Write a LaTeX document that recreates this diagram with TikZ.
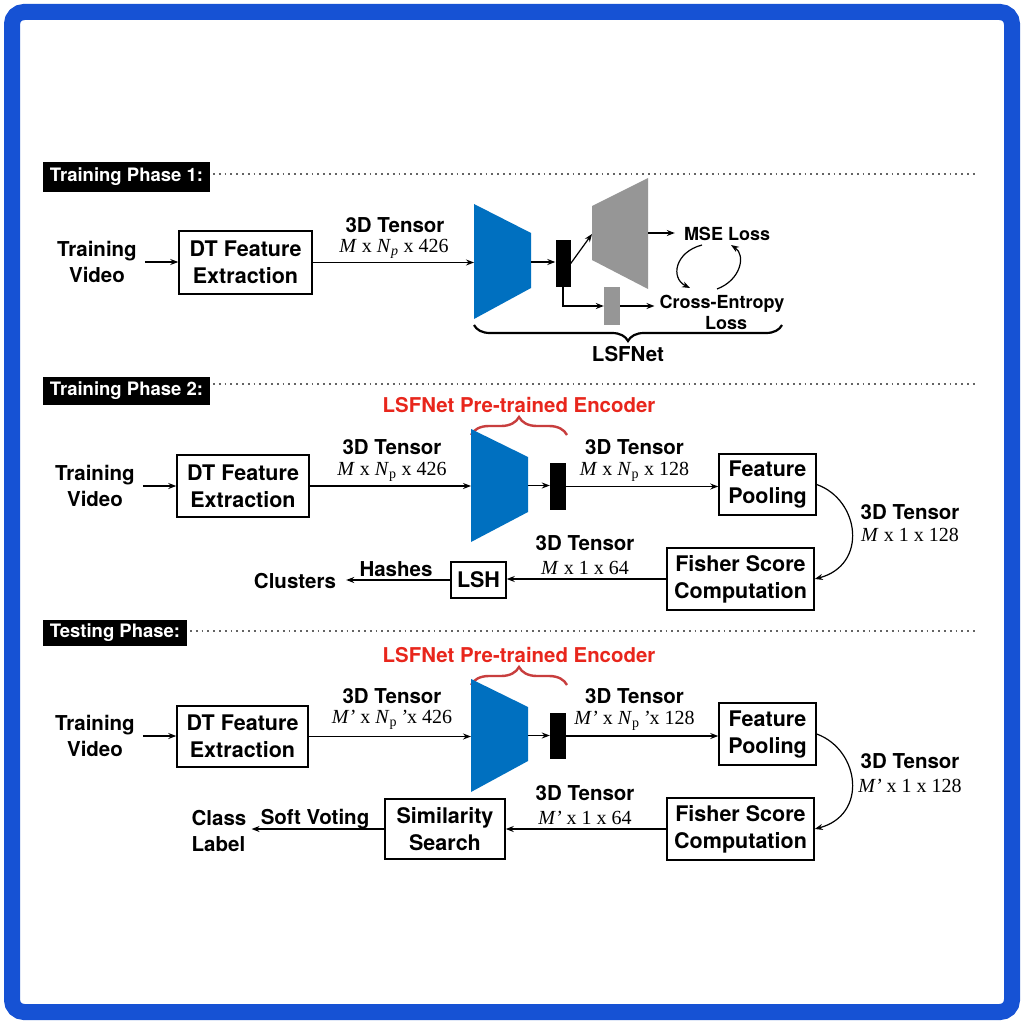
\documentclass[tikz,border=0pt]{standalone}
\usepackage{fontspec}
\setmainfont{TeX Gyre Heros}
\newfontfamily\tms{Liberation Serif}
\usetikzlibrary{arrows.meta,decorations.pathreplacing,calc}
\definecolor{frameblue}{RGB}{22,82,212}
\definecolor{encblue}{RGB}{0,112,192}
\definecolor{decgray}{RGB}{150,150,150}
\definecolor{lsfred}{RGB}{232,38,28}
\definecolor{bracered}{RGB}{200,62,62}
\definecolor{dotgray}{RGB}{100,100,100}
\tikzset{
  arr/.style={-{Stealth[length=8pt,width=6pt]}, line width=1.2pt},
  lbl/.style={font=\fontsize{20.5}{26}\selectfont\bfseries, inner sep=0pt, align=center},
  losst/.style={font=\fontsize{18}{22}\selectfont\bfseries, inner sep=0pt, align=center},
  mth/.style={font=\tms\fontsize{20}{24}\selectfont, inner sep=0pt},
  boxn/.style={draw, line width=1.5pt, inner sep=0pt, align=center, font=\fontsize{21.5}{27}\selectfont\bfseries},
  hdr/.style={fill=black, text=white, font=\fontsize{18.5}{20}\selectfont\bfseries, inner sep=0pt},
  dotl/.style={dotgray, line width=1.5pt, dash pattern=on 1.8pt off 4pt},
  redlbl/.style={text=lsfred, font=\fontsize{20.4}{24}\selectfont\bfseries, inner sep=0pt},
  redbrace/.style={bracered, line width=2.4pt, decorate, decoration={brace, amplitude=18pt}},
  blk/.style={fill=black, inner sep=0pt},
}
\begin{document}
\begin{tikzpicture}[x=1pt,y=-1pt]
\useasboundingbox (0,0) rectangle (1024,1024);
\fill[white] (0,0) rectangle (1024,1024);
\draw[frameblue, line width=16pt, rounded corners=12pt] (12,12) rectangle (1012,1012);

% ---------------- Phase 1 ----------------
\node[hdr, minimum width=167pt, minimum height=30pt] (h1) at (126.5,177) {Training Phase 1:};
\draw[dotl] (213,174) -- (975,174);

\node[lbl, inner sep=8pt] (tv1) at (97,262) {Training\\Video};
\node[boxn, minimum width=133pt, minimum height=63pt] (dt1) at (245.5,262.5) {DT Feature\\Extraction};
\draw[arr] (tv1.east) -- (tv1.east -| dt1.west);

\fill[encblue] (474,204) -- (531,233) -- (531,288) -- (474,319) -- cycle;
\coordinate (e1w) at (474,262);
\coordinate (e1e) at (531,262);
\draw[arr] (dt1.east) -- (dt1.east -| e1w);
\node[lbl] (t1a) at (395,225) {3D Tensor};
\node[mth] (t1b) at (394,249) {\textit{M} x \textit{N}\textsubscript{\textit{p}} x 426};

\node[blk, minimum width=15pt, minimum height=47pt] (z1) at (563,263.5) {};
\draw[arr] (e1e) -- (e1e -| z1.west);

\fill[decgray] (592,206) -- (648,178) -- (648,289) -- (592,260) -- cycle;
\coordinate (d1w) at (592,234);
\coordinate (d1e) at (648,233);
\draw[arr] (z1.east) -- (d1w);

\node[losst, inner sep=9pt] (mse) at (727,234) {MSE Loss};
\draw[arr] (d1e) -- (d1e -| mse.west);

\node[fill=decgray, inner sep=0pt, minimum width=16pt, minimum height=38pt] (g1) at (612,306) {};
\draw[arr] (z1.south) |- (g1.west);
\node[losst, inner sep=5pt] (ce) at (722,304) {Cross-Entropy};
\node[losst] (cel) at (726,323) {Loss};
\draw[arr] (g1.east) -- (g1.east -| ce.west);

\coordinate (c1) at (702,245);
\coordinate (c2) at (690,288);
\coordinate (c3) at (717,289);
\coordinate (c4) at (731,245);
\draw[arr] (c1) .. controls (675,252) and (670,278) .. (c2);
\draw[arr] (c3) .. controls (741,280) and (746,255) .. (c4);

\draw[line width=2.2pt, decorate, decoration={brace, amplitude=16pt}] (782,325) -- (474,325);
\node[lbl] (lsf) at (628,354) {LSFNet};

% ---------------- Phase 2 ----------------
\node[hdr, minimum width=167pt, minimum height=28pt] (h2) at (126.5,391) {Training Phase 2:};
\draw[dotl] (213,384) -- (975,384);

\node[redlbl] (r2) at (519,405) {LSFNet Pre-trained Encoder};
\draw[redbrace] (471,435) -- (567,435);

\node[lbl, inner sep=8pt] (tv2) at (95,486) {Training\\Video};
\node[boxn, minimum width=132pt, minimum height=62pt] (dt2) at (243,486) {DT Feature\\Extraction};
\draw[arr] (tv2.east) -- (tv2.east -| dt2.west);

\fill[encblue] (471,429) -- (528,457) -- (528,512) -- (471,542) -- cycle;
\coordinate (e2w) at (471,485.5);
\coordinate (e2e) at (528,485.5);
\draw[arr] (dt2.east) -- (dt2.east -| e2w);
\node[lbl] (t2a) at (392,447) {3D Tensor};
\node[mth] (t2b) at (392,472) {\textit{M} x \textit{N}\textsubscript{p} x 426};

\node[blk, minimum width=16pt, minimum height=47pt] (z2) at (558,486.5) {};
\draw[arr] (e2e) -- (e2e -| z2.west);

\node[boxn, minimum width=97pt, minimum height=61pt] (fp2) at (767.5,484.5) {Feature\\Pooling};
\draw[arr] (z2.east) -- (z2.east -| fp2.west);
\node[lbl] (t2c) at (634.5,447) {3D Tensor};
\node[mth] (t2d) at (634.5,472) {\textit{M} x \textit{N}\textsubscript{p} x 128};

\node[boxn, minimum width=147pt, minimum height=62pt] (fs2) at (740.5,579) {Fisher Score\\Computation};
\draw[arr] (fp2.east) .. controls (860,500) and (868,565) .. (fs2.east);
\node[lbl] (t2e) at (910,512) {3D Tensor};
\node[mth] (t2f) at (910,535) {\textit{M} x 1 x 128};

\node[boxn, minimum width=55pt, minimum height=36pt] (lsh) at (478.5,580) {LSH};
\draw[arr] (fs2.west) -- (fs2.west -| lsh.east);
\node[lbl] (t2g) at (585,543) {3D Tensor};
\node[mth] (t2h) at (585,568) {\textit{M} x 1 x 64};

\node[lbl, inner sep=10pt] (cl) at (295,581) {Clusters};
\draw[arr] (lsh.west) -- (lsh.west -| cl.east);
\node[lbl] (hs) at (396,569) {Hashes};

% ---------------- Testing ----------------
\node[hdr, minimum width=144pt, minimum height=26pt] (h3) at (115,633) {Testing Phase:};
\draw[dotl] (190,631) -- (975,631);

\node[redlbl] (r3) at (519,655) {LSFNet Pre-trained Encoder};
\draw[redbrace] (471,685) -- (567,685);

\node[lbl, inner sep=8pt] (tv3) at (95,736) {Training\\Video};
\node[boxn, minimum width=131pt, minimum height=61pt] (dt3) at (242.5,736.5) {DT Feature\\Extraction};
\draw[arr] (tv3.east) -- (tv3.east -| dt3.west);

\fill[encblue] (471,679) -- (528,707) -- (528,761) -- (471,792) -- cycle;
\coordinate (e3w) at (471,735.5);
\coordinate (e3e) at (528,735.5);
\draw[arr] (dt3.east) -- (dt3.east -| e3w);
\node[lbl] (t3a) at (392,696) {3D Tensor};
\node[mth] (t3b) at (392,720) {\textit{M’} x \textit{N}\textsubscript{p}\,\textit{’}x 426};

\node[blk, minimum width=16pt, minimum height=46pt] (z3) at (558,736) {};
\draw[arr] (e3e) -- (e3e -| z3.west);

\node[boxn, minimum width=97pt, minimum height=62pt] (fp3) at (767.5,734) {Feature\\Pooling};
\draw[arr] (z3.east) -- (z3.east -| fp3.west);
\node[lbl] (t3c) at (634.5,696) {3D Tensor};
\node[mth] (t3d) at (634.5,721) {\textit{M’} x \textit{N}\textsubscript{p}\,\textit{’}x 128};

\node[boxn, minimum width=147pt, minimum height=62pt] (fs3) at (740.5,829) {Fisher Score\\Computation};
\draw[arr] (fp3.east) .. controls (860,750) and (868,815) .. (fs3.east);
\node[lbl] (t3e) at (910,761) {3D Tensor};
\node[mth] (t3f) at (910,786) {\textit{M’} x 1 x 128};

\node[boxn, minimum width=120pt, minimum height=60pt] (ss) at (445,829) {Similarity\\Search};
\draw[arr] (fs3.west) -- (fs3.west -| ss.east);
\node[lbl] (t3g) at (585,793) {3D Tensor};
\node[mth] (t3h) at (585,818) {\textit{M’} x 1 x 64};

\node[lbl, align=left, inner sep=5pt] (cls) at (219,831) {Class\\Label};
\draw[arr] (ss.west) -- (ss.west -| cls.east);
\node[lbl] (sv) at (315,819) {Soft Voting};
\end{tikzpicture}
\end{document}
